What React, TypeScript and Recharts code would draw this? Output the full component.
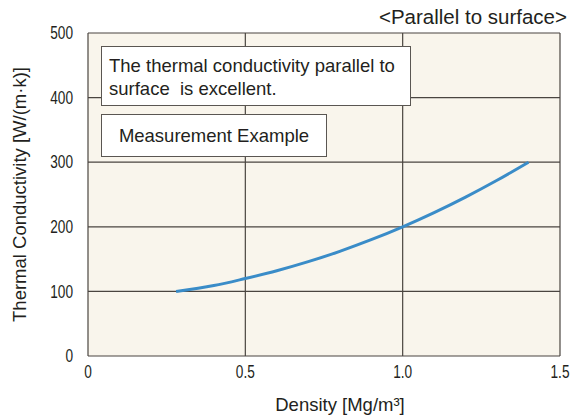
import { CartesianGrid, Line, LineChart, XAxis, YAxis } from "recharts";

const density = [0.28, 0.4, 0.5, 0.6, 0.7, 0.8, 0.9, 1.0, 1.1, 1.2, 1.3, 1.4];
const conductivity = [100, 109, 120, 132, 146, 162, 180, 200, 222, 246, 272, 300];
const xTicks = [0, 0.5, 1.0, 1.5];
const yTicks = [0, 100, 200, 300, 400, 500];

const data = density.map((d, i) => ({ density: d, value: conductivity[i] }));

const sans = '"Liberation Sans", Arial, Helvetica, sans-serif';
const ink = "#231f20";

// condensed tick labels, squeezed horizontally like the original
const NarrowTick = ({ x, y, payload, anchor, fmt }: any) => (
  <g transform={`translate(${x},${y})`}>
    <text
      transform="scale(0.78,1)"
      textAnchor={anchor}
      dominantBaseline="central"
      fontFamily={sans}
      fontSize={17.5}
      fill={ink}
    >
      {fmt ? fmt(payload.value) : payload.value}
    </text>
  </g>
);

const YTitle = ({ viewBox }: any) => {
  const cx = 19;
  const cy = viewBox.y + viewBox.height / 2;
  return (
    <text
      x={cx}
      y={cy}
      transform={`rotate(-90 ${cx} ${cy})`}
      textAnchor="middle"
      dominantBaseline="central"
      fontFamily={sans}
      fontSize={18.5}
      fill={ink}
    >
      Thermal Conductivity [W/(m·k)]
    </text>
  );
};

const XTitle = () => (
  <text
    x={340}
    y={404}
    textAnchor="middle"
    dominantBaseline="central"
    fontFamily={sans}
    fontSize={18.5}
    fill={ink}
  >
    Density [Mg/m³]
  </text>
);

const box: React.CSSProperties = {
  position: "absolute",
  background: "#fff",
  border: "1px solid #5a5652",
  boxSizing: "border-box",
  fontFamily: sans,
  fontSize: 18.5,
  color: ink,
};

const fmtX = (v: number) => (v === 0 ? "0" : v.toFixed(1));

export default function App() {
  return (
    <div style={{ position: "absolute", left: 0, top: 0, width: 571, height: 416, background: "#fff" }}>
      <LineChart
        width={571}
        height={416}
        data={data}
        margin={{ top: 33, right: 11, left: 0, bottom: 0 }}
      >
        <CartesianGrid fill="#f9f5ec" stroke="#4a4540" strokeWidth={1.2} />
        <XAxis
          dataKey="density"
          type="number"
          domain={[0, 1.5]}
          ticks={xTicks}
          axisLine={false}
          tickLine={false}
          tickSize={0}
          tickMargin={16}
          height={60}
          tick={<NarrowTick anchor="middle" fmt={fmtX} />}
          label={{ content: XTitle }}
        />
        <YAxis
          type="number"
          domain={[0, 500]}
          ticks={yTicks}
          axisLine={false}
          tickLine={false}
          tickSize={0}
          tickMargin={15}
          width={88}
          tick={<NarrowTick anchor="end" />}
          label={{ content: YTitle }}
        />
        <Line
          type="monotone"
          dataKey="value"
          stroke="#3a8cc8"
          strokeWidth={3}
          dot={false}
          isAnimationActive={false}
        />
      </LineChart>
      <div
        style={{
          position: "absolute",
          right: 4,
          top: 5,
          fontFamily: sans,
          fontSize: 20.5,
          color: ink,
          lineHeight: "24px",
        }}
      >
        {"<Parallel to surface>"}
      </div>
      <div style={{ ...box, left: 101, top: 46, width: 310, height: 60, padding: "7px 0 0 7px", lineHeight: "23px" }}>
        The thermal conductivity parallel to
        <br />
        surface&nbsp; is excellent.
      </div>
      <div
        style={{
          ...box,
          left: 101,
          top: 114,
          width: 226,
          height: 43,
          display: "flex",
          alignItems: "center",
          justifyContent: "center",
        }}
      >
        Measurement Example
      </div>
    </div>
  );
}
